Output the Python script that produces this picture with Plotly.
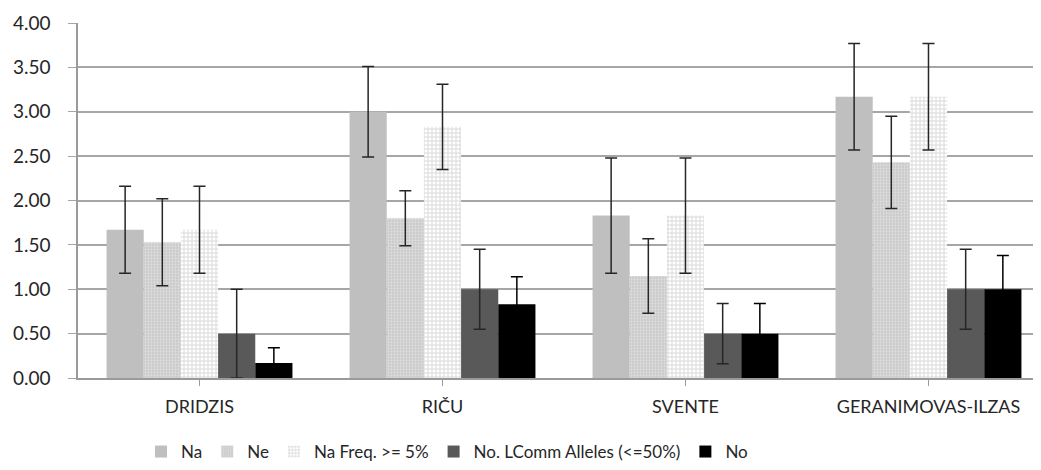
import plotly.graph_objects as go

categories = ["DRIDZIS", "RIČU", "SVENTE", "GERANIMOVAS-ILZAS"]
series_names = ["Na", "Ne", "Na Freq. >= 5%", "No. LComm Alleles (<=50%)", "No"]

na = [1.67, 3.00, 1.83, 3.17]
ne = [1.53, 1.80, 1.15, 2.43]
na_freq = [1.67, 2.83, 1.83, 3.17]
lcomm = [0.50, 1.00, 0.50, 1.00]
no = [0.17, 0.83, 0.50, 1.00]

na_err = [0.49, 0.51, 0.65, 0.60]
ne_err = [0.49, 0.31, 0.42, 0.52]
na_freq_err = [0.49, 0.48, 0.65, 0.60]
lcomm_err = [0.50, 0.45, 0.34, 0.45]
no_err = [0.17, 0.31, 0.34, 0.38]

values = [na, ne, na_freq, lcomm, no]
errors = [na_err, ne_err, na_freq_err, lcomm_err, no_err]

styles = [
    dict(color="#bfbfbf"),
    dict(color="#d4d4d4", pattern=dict(shape=".", fgcolor="#f2f2f2", bgcolor="#c8c8c8", size=3, solidity=0.45)),
    dict(color="#ffffff", pattern=dict(shape="+", fgcolor="#ababab", bgcolor="#ffffff", size=4, solidity=0.4)),
    dict(color="#595959"),
    dict(color="#000000"),
]
err_colors = ["#262626", "#262626", "#262626", "#262626", "#000000"]

x_idx = list(range(len(categories)))

fig = go.Figure()
for name, vals, errs, st, ec in zip(series_names, values, errors, styles, err_colors):
    fig.add_trace(go.Bar(
        name=name,
        x=x_idx,
        y=vals,
        marker=dict(line=dict(width=0), **st),
        error_y=dict(type="data", array=errs, visible=True,
                     color=ec, thickness=1.5, width=6),
    ))

font_family = "Lato, 'Open Sans', sans-serif"
fig.update_layout(
    width=1033, height=462,
    margin=dict(l=70, r=0, t=15, b=92, autoexpand=False),
    paper_bgcolor="white", plot_bgcolor="white",
    barmode="group", bargap=0.235, bargroupgap=0,
    font=dict(family=font_family, size=17, color="#404040"),
    legend=dict(orientation="h", xref="container", x=0.425, xanchor="center",
                yref="container", y=0.039, yanchor="middle",
                font=dict(size=17, color="#262626"), itemwidth=30,
                traceorder="normal"),
    xaxis=dict(
        tickmode="array", tickvals=x_idx, ticktext=categories,
        range=[-0.5, 3.463], showgrid=False, showline=True,
        linecolor="#9a9a9a", linewidth=1.5,
        ticks="outside", tickson="boundaries", ticklen=6, tickcolor="#9a9a9a",
        tickfont=dict(size=18, color="#262626"), zeroline=False,
        automargin=False, ticklabelstandoff=6,
    ),
    yaxis=dict(
        range=[0, 4], dtick=0.5, tickformat=".2f",
        showgrid=True, gridcolor="#a6a6a6", gridwidth=1.5,
        showline=True, linecolor="#9a9a9a", linewidth=1.5,
        ticks="outside", ticklen=8, tickcolor="#a6a6a6",
        tickfont=dict(size=19, color="#262626"), zeroline=False,
        automargin=False, ticklabelstandoff=14,
    ),
)

fig.write_html("out.html")
